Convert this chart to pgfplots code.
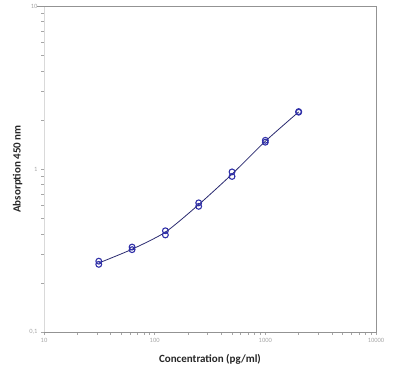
\documentclass[border=0pt]{standalone}
\usepackage{fontspec}
\setmainfont{Carlito}
\usepackage{pgfplots}
\pgfplotsset{compat=1.18}
\definecolor{markblue}{HTML}{3030A8}
\definecolor{lineblue}{HTML}{2A2A70}
\begin{document}
\begin{tikzpicture}
\useasboundingbox (-44pt,-43pt) rectangle (349pt,332pt);
\begin{axis}[
  scale only axis,
  width=332pt, height=326pt,
  xmode=log, ymode=log,
  xmin=10, xmax=10000, ymin=0.1, ymax=10,
  xtick={10,100,1000,10000},
  xticklabels={10,100,1000,10000},
  ytick={0.1,1,10},
  yticklabels={{0,1},1,10},
  minor tick num=0,
  minor xtick={}, minor ytick={},
  tick align=outside,
  major tick length=3pt,
  tick style={gray!70, line width=0.6pt},
  axis line style={draw=none},
  ticklabel style={font=\fontsize{6.5}{7}\selectfont, text=gray!70},
  /pgf/number format/assume math mode=true,
  xtick pos=bottom, ytick pos=left,
  xlabel={Concentration (pg/ml)},
  ylabel={Absorption 450 nm},
  label style={font=\fontsize{11}{13}\selectfont\bfseries, text=black!85},
  xlabel style={at={(rel axis cs:0.5,0)}, anchor=north, yshift=-19pt},
  ylabel style={at={(rel axis cs:0,0.5)}, anchor=south, xshift=0pt, yshift=18pt},
  clip=false,
]
\draw[gray!30, line width=0.8pt] (rel axis cs:0,0) -- (rel axis cs:0,1);
\draw[gray!85, line width=0.9pt] (rel axis cs:-0.02,1) -- (rel axis cs:1,1) -- (rel axis cs:1,0) -- (rel axis cs:0,0);
\addplot[lineblue, line width=0.8pt, smooth, tension=0.4, no marks] coordinates {
  (31.25,0.265) (62.5,0.322) (125,0.41) (250,0.605) (500,0.93) (1000,1.48) (2000,2.24)
};
\addplot[only marks, mark=o, mark size=2.9pt, mark options={draw=markblue, line width=1.1pt}] coordinates {
  (31.25,0.272) (31.25,0.260)
  (62.5,0.332) (62.5,0.320)
  (125,0.418) (125,0.394)
  (250,0.620) (250,0.590)
  (500,0.960) (500,0.900)
  (1000,1.50) (1000,1.46)
  (2000,2.25) (2000,2.23)
};
\end{axis}
\end{tikzpicture}
\end{document}
